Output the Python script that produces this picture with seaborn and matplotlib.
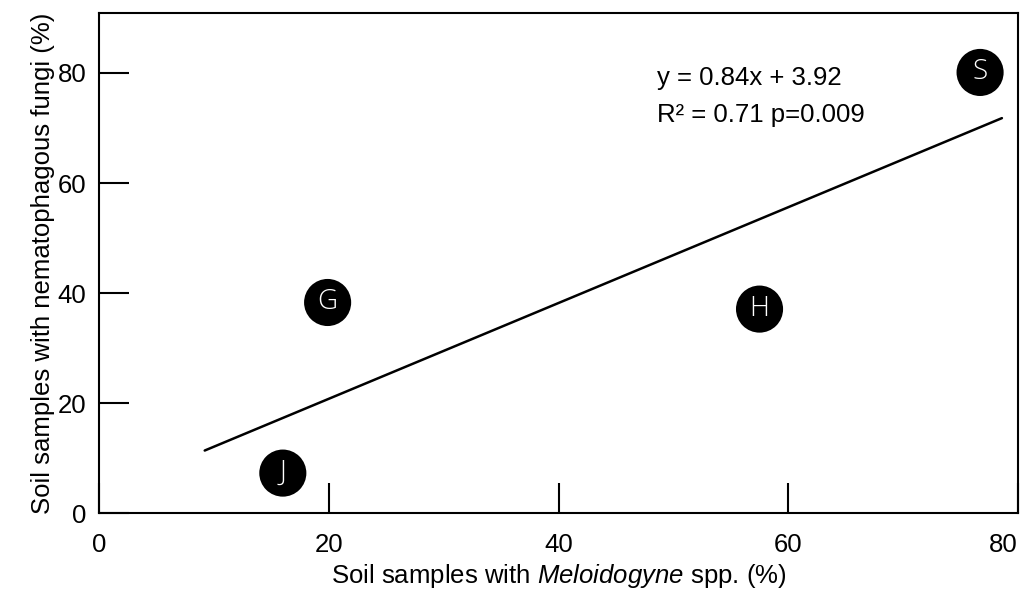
import numpy as np
import pandas as pd
import matplotlib
matplotlib.use('Agg')
import matplotlib.pyplot as plt
import seaborn as sns

# values
sites = ['J', 'G', 'H', 'S']
meloidogyne = [16.0, 19.9, 57.5, 76.7]
fungi = [7.3, 38.3, 37.1, 80.1]
# regression line ends
fit_x = [9.2, 78.6]
fit_y = [11.4, 71.8]
x_ticks = [0, 20, 40, 60, 80]
y_ticks = [0, 20, 40, 60, 80]

df = pd.DataFrame({'site': sites, 'x': meloidogyne, 'y': fungi})
fit = pd.DataFrame({'x': fit_x, 'y': fit_y})

sns.set_style('ticks')
plt.rcParams['font.family'] = ['Liberation Sans', 'DejaVu Sans']
plt.rcParams['mathtext.fontset'] = 'custom'
plt.rcParams['mathtext.rm'] = 'Liberation Sans'
plt.rcParams['mathtext.it'] = 'Liberation Sans:italic'
plt.rcParams['text.color'] = 'black'
plt.rcParams['axes.labelcolor'] = 'black'

fig = plt.figure(figsize=(10.23, 6.08), dpi=100)
ax = fig.add_axes([0.0968, 0.1558, 0.8983, 0.8228])

sns.lineplot(data=fit, x='x', y='y', ax=ax, color='black', linewidth=1.8)
sns.scatterplot(data=df, x='x', y='y', ax=ax, s=1150, color='black',
                edgecolor='none', zorder=3)
for _, r in df.iterrows():
    ax.text(r['x'], r['y'], r['site'], color='white', ha='center', va='center',
            fontsize=20, family=['Open Sans', 'DejaVu Sans'], fontweight='light', zorder=10)

ax.set_xlim(0, 80)
ax.set_ylim(0, 90.9)
ax.set_xticks(x_ticks)
ax.set_yticks(y_ticks)
ax.tick_params(direction='in', length=21.6, width=1.5, labelsize=18.5,
               colors='black', labelcolor='black')
ax.tick_params(axis='x', pad=14)
ax.tick_params(axis='y', pad=9)
ax.get_xticklabels()[-1].set_ha('right')
for s in ax.spines.values():
    s.set_visible(True)
    s.set_linewidth(1.5)
    s.set_color('black')

ax.set_xlabel(r'Soil samples with $\mathit{Meloidogyne}$ spp. (%)', fontsize=18.5, labelpad=4)
ax.set_ylabel('Soil samples with nematophagous fungi (%)', fontsize=18.5, labelpad=2)

ax.text(0.607, 0.856, 'y = 0.84x + 3.92', transform=ax.transAxes, fontsize=18.5, va='baseline')
ax.text(0.607, 0.782, 'R² = 0.71 p=0.009', transform=ax.transAxes, fontsize=18.5, va='baseline')

fig.savefig('out.png', dpi=100)
